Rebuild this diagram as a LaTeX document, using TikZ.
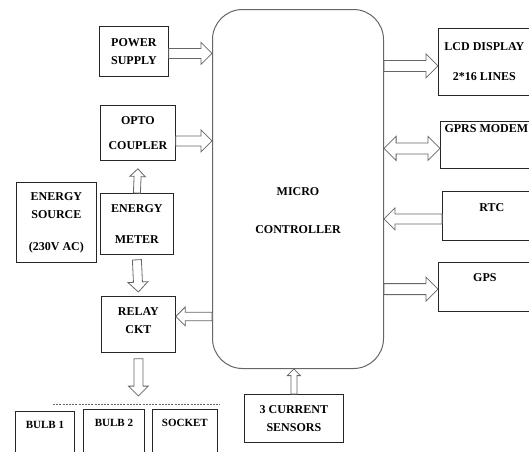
\documentclass[tikz,border=0pt]{standalone}
\usepackage{fontspec}
\setmainfont{Liberation Serif}
\usetikzlibrary{calc}

% angle and length between two points, kept global for the arrow macros
\newcommand{\fatprep}[2]{%
  \path let \p1=(#1), \p2=(#2) in \pgfextra{%
    \pgfmathsetmacro\fatang{atan2(\y2-\y1,\x2-\x1)}\global\let\fatang\fatang
    \pgfmathsetmacro\fatlen{veclen(\x2-\x1,\y2-\y1)}\global\let\fatlen\fatlen};}
% hollow block arrow, #1 = size factor
\newcommand{\fatarrow}[3][1]{%
  \fatprep{#2}{#3}%
  \draw[fat, shift={(#2)}, rotate=\fatang] (0,{-5*#1}) -- ({\fatlen-11*#1},{-5*#1})
    -- ({\fatlen-11*#1},{-11*#1}) -- (\fatlen,0) -- ({\fatlen-11*#1},{11*#1})
    -- ({\fatlen-11*#1},{5*#1}) -- (0,{5*#1}) -- cycle;}
\newcommand{\fatarrows}[3][1]{%
  \fatprep{#2}{#3}%
  \draw[fat, shift={(#2)}, rotate=\fatang] (0,0) -- ({11*#1},{-11*#1}) -- ({11*#1},{-5*#1})
    -- ({\fatlen-11*#1},{-5*#1}) -- ({\fatlen-11*#1},{-11*#1}) -- (\fatlen,0)
    -- ({\fatlen-11*#1},{11*#1}) -- ({\fatlen-11*#1},{5*#1}) -- ({11*#1},{5*#1})
    -- ({11*#1},{11*#1}) -- cycle;}

\begin{document}
\begin{tikzpicture}[x=1pt, y=-1pt,
  box/.style={draw=black!85, line width=0.8pt, fill=white, inner sep=0pt, anchor=north west,
    align=center, font=\bfseries\fontsize{12}{18}\selectfont},
  fat/.style={draw=black!60, line width=0.8pt, fill=white, line join=miter},
  bus/.style={draw=black!60, line width=0.7pt, dash pattern=on 2pt off 1.2pt}]
	\useasboundingbox (0,0) rectangle (529,451);
	\clip (0,0) rectangle (529,451);
	% left column
	\node[box, minimum width=69pt, minimum height=50pt] (ps) at (99,26) {POWER\\SUPPLY};
	\node[box, minimum width=75pt, minimum height=55pt] (opto) at (100,105) {OPTO\\[7pt]COUPLER};
	\node[box, minimum width=80pt, minimum height=80pt] (src) at (16,182) {ENERGY\\SOURCE\\[14pt](230V AC)};
	\node[box, minimum width=73pt, minimum height=61pt] (meter) at (100,193) {ENERGY\\[13pt]METER};
	\node[box, minimum width=74pt, text height=37pt, text depth=19pt] (relay) at (101,296) {RELAY\\CKT};
	% loads
	\node[box, minimum width=59pt, text height=17pt, text depth=45pt, font=\bfseries\fontsize{11}{14}\selectfont] (b1) at (15,411) {BULB 1};
	\node[box, minimum width=61pt, text height=17pt, text depth=45pt, font=\bfseries\fontsize{11}{14}\selectfont] (b2) at (83,409) {BULB 2};
	\node[box, minimum width=65pt, text height=17pt, text depth=45pt, font=\bfseries\fontsize{11}{14}\selectfont] (b3) at (152,409) {SOCKET};
	\coordinate (busL) at (53,404);
	\coordinate (busR) at (220,404);
	\draw[bus] (busL) -- (busR);
	% controller
	\node[box, minimum width=171pt, rounded corners=30pt, draw=black!60, line width=1pt,
	  text height=224pt, text depth=135pt] (mc) at (212,9) {MICRO\\[20pt]CONTROLLER};
	\node[box, minimum width=99pt, minimum height=48pt] (cs) at (244,394) {3 CURRENT\\SENSORS};
	% right column
	\node[box, minimum width=92pt, minimum height=67pt] (lcd) at (438,28) {LCD DISPLAY\\[12pt]2*16 LINES};
	\node[box, minimum width=92pt, text height=10.7pt, text depth=36.3pt] (gprs) at (440,121) {GPRS MODEM};
	\node[box, minimum width=99pt, text height=19.7pt, text depth=29.3pt] (rtc) at (442,191) {RTC};
	\node[box, minimum width=93pt, text height=19.4pt, text depth=30pt] (gps) at (438,262) {GPS};
	% arrows
	\fatarrow{$(ps.east)+(0,2)$}{$(ps.east -| mc.west)+(0,2)$}
	\fatarrow{$(opto.east)+(0,8)$}{$(opto.east -| mc.west)+(0,8)$}
	\fatarrow[0.7]{meter.north}{$(opto.south)+(0,8)$}
	\fatarrow[0.9]{$(meter.south)+(0,5)$}{$(relay.north)+(0,-4)$}
	\fatarrow[0.85]{$(relay.east -| mc.west)+(0,-8)$}{$(relay.east)+(0,-8)$}
	\fatarrow[0.9]{$(relay.south)+(0,6)$}{$(relay.south |- busL)+(0,-8)$}
	\fatarrow[0.6]{cs.north}{cs.north |- mc.south}
	\fatarrow[1.1]{$(lcd.west -| mc.east)+(0,4)$}{$(lcd.west)+(0,4)$}
	\fatarrows[1.1]{$(gprs.west -| mc.east)+(0,3.5)$}{$(gprs.west)+(0,3.5)$}
	\fatarrow{$(rtc.west)+(0,3)$}{$(rtc.west -| mc.east)+(0,3)$}
	\fatarrow[1.1]{$(gps.west -| mc.east)+(0,2)$}{$(gps.west)+(0,2)$}
\end{tikzpicture}
\end{document}
